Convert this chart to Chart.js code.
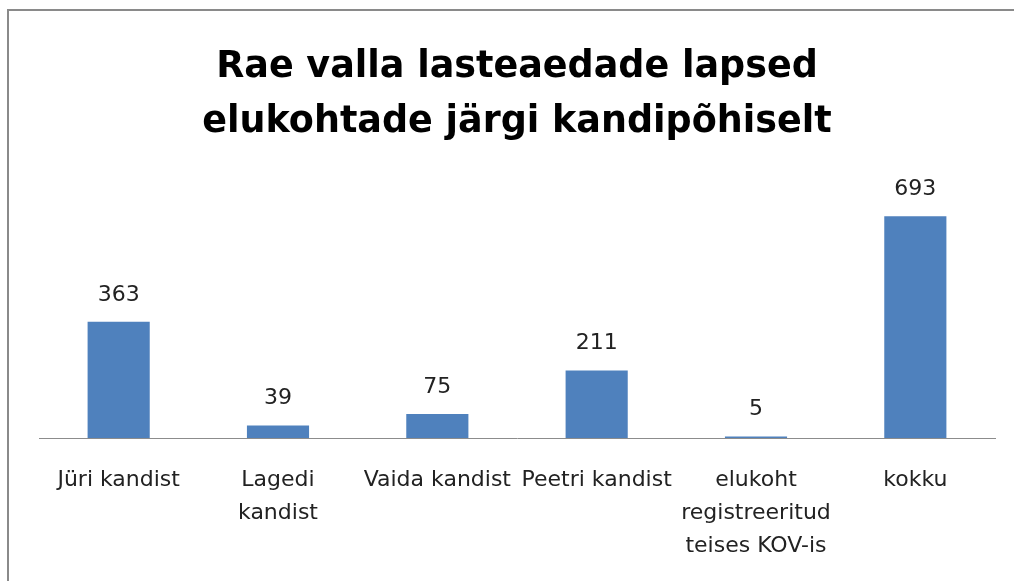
<!DOCTYPE html>
<html>
<head>
<meta charset="utf-8">
<script src="https://cdn.jsdelivr.net/npm/chart.js@4"></script>
<style>
  html, body { margin: 0; padding: 0; background: #fff; }
  #wrap { position: relative; width: 1014px; height: 581px; overflow: hidden; }
  #frame { position: absolute; left: 7px; top: 9px; width: 1100px; height: 700px;
           border-left: 2px solid #8a8a8a; border-top: 2px solid #8a8a8a; }
  canvas { position: absolute; left: 0; top: 0; }
</style>
</head>
<body>
<div id="wrap">
  <div id="frame"></div>
  <canvas id="myChart" width="1014" height="589"></canvas>
</div>
<script>
"use strict";

// data
var categories = [
    ["Jüri kandist"],
    ["Lagedi", "kandist"],
    ["Vaida kandist"],
    ["Peetri kandist"],
    ["elukoht", "registreeritud", "teises KOV-is"],
    ["kokku"]
];
var children = [363, 39, 75, 211, 5, 693];
var titleLines = ["Rae valla lasteaedade lapsed", "elukohtade järgi kandipõhiselt"];

var FONT = "'DejaVu Sans', sans-serif";

// draws the number above each bar
var valueLabels = {
    id: "valueLabels",
    afterDatasetsDraw: function (chart) {
        var ctx = chart.ctx;
        var meta = chart.getDatasetMeta(0);
        ctx.save();
        ctx.font = "22px " + FONT;
        ctx.fillStyle = "#222";
        ctx.textAlign = "center";
        ctx.textBaseline = "middle";
        meta.data.forEach(function (bar, i) {
            ctx.fillText(String(children[i]), bar.x, bar.y - 27);
        });
        ctx.restore();
    }
};

var ctx = document.getElementById("myChart").getContext("2d");
var chart = new Chart(ctx, {
    type: "bar",
    data: {
        labels: categories,
        datasets: [{
            data: children,
            backgroundColor: "#4F81BD",
            borderWidth: 0,
            barPercentage: 0.39,
            categoryPercentage: 1
        }]
    },
    options: {
        responsive: false,
        animation: false,
        layout: { padding: { left: 39, right: 19, top: 0, bottom: 0 } },
        plugins: {
            legend: { display: false },
            tooltip: { enabled: false },
            title: {
                display: true,
                text: titleLines,
                color: "#000",
                font: { family: FONT, size: 36.5, weight: "bold", lineHeight: 1.48 },
                padding: { top: 41, bottom: 33 }
            }
        },
        scales: {
            x: {
                grid: { display: false, drawTicks: false },
                border: { display: true, color: "#8c8c8c", width: 1 },
                ticks: {
                    color: "#222",
                    font: { family: FONT, size: 22, lineHeight: 1.5 },
                    padding: 26,
                    maxRotation: 0,
                    autoSkip: false
                }
            },
            y: {
                display: false,
                min: 0,
                max: 800
            }
        }
    },
    plugins: [valueLabels]
});
</script>
</body>
</html>
